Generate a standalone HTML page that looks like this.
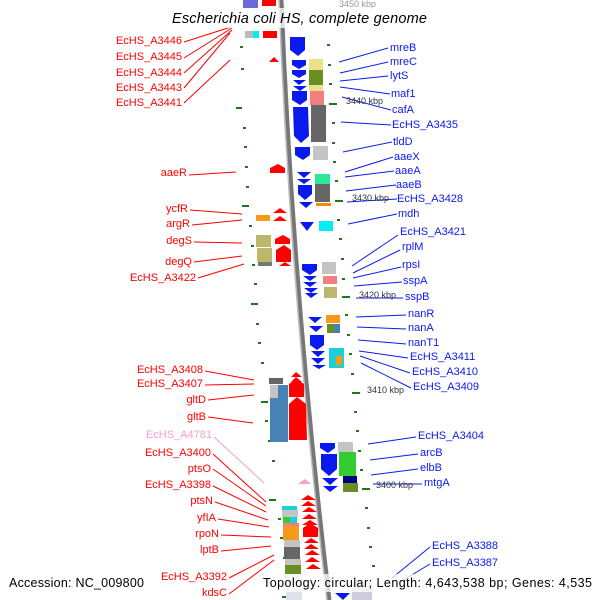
<!DOCTYPE html>
<html><head><meta charset="utf-8"><style>
html,body{margin:0;padding:0;background:#fff;}
svg{display:block;}
text{font-family:"Liberation Sans",sans-serif;}
</style></head><body>
<svg width="600" height="600" viewBox="0 0 600 600" xmlns="http://www.w3.org/2000/svg">
<rect width="600" height="600" fill="#fff"/>
<path d="M281,0 Q293,300 329,600" stroke="#777" stroke-width="5" fill="none"/>
<path d="M279,0 Q291,300 327,600" stroke="#bbb" stroke-width="1.5" fill="none"/>

<g fill="#1a7a1a">
<rect x="240" y="46" width="3" height="2"/><rect x="241" y="68" width="3" height="2"/><rect x="236" y="107" width="6" height="2"/>
<rect x="243" y="127" width="3" height="2"/><rect x="244" y="146" width="3" height="2"/><rect x="245" y="166" width="3" height="2"/>
<rect x="246" y="186" width="3" height="2"/><rect x="242" y="205" width="7" height="2"/><rect x="249" y="225" width="3" height="2"/>
<rect x="251" y="245" width="3" height="2"/><rect x="252" y="264" width="3" height="2"/><rect x="254" y="283" width="3" height="2"/>
<rect x="251" y="303" width="7" height="2"/><rect x="256" y="323" width="3" height="2"/><rect x="258" y="342" width="3" height="2"/>
<rect x="261" y="362" width="3" height="2"/><rect x="261" y="401" width="7" height="2"/><rect x="265" y="420" width="3" height="2"/>
<rect x="268" y="440" width="3" height="2"/><rect x="272" y="460" width="3" height="2"/><rect x="269" y="499" width="7" height="2"/>
<rect x="278" y="518" width="3" height="2"/><rect x="280" y="537" width="3" height="2"/><rect x="283" y="557" width="3" height="2"/>
<rect x="285" y="576" width="3" height="2"/><rect x="282" y="596" width="7" height="2"/>
<rect x="327" y="44" width="3" height="2"/><rect x="328" y="64" width="3" height="2"/><rect x="329" y="83" width="3" height="2"/>
<rect x="329" y="103" width="8" height="2"/><rect x="332" y="122" width="3" height="2"/><rect x="332" y="142" width="3" height="2"/>
<rect x="333" y="161" width="3" height="2"/><rect x="335" y="180" width="3" height="2"/><rect x="335" y="200" width="8" height="2"/>
<rect x="337" y="219" width="3" height="2"/><rect x="339" y="238" width="3" height="2"/><rect x="341" y="258" width="3" height="2"/>
<rect x="342" y="278" width="3" height="2"/><rect x="342" y="296" width="8" height="2"/><rect x="345" y="314" width="3" height="2"/>
<rect x="347" y="334" width="3" height="2"/><rect x="349" y="353" width="3" height="2"/><rect x="351" y="373" width="3" height="2"/>
<rect x="352" y="392" width="8" height="2"/><rect x="354" y="411" width="3" height="2"/><rect x="356" y="430" width="3" height="2"/>
<rect x="358" y="450" width="3" height="2"/><rect x="360" y="469" width="3" height="2"/><rect x="362" y="488" width="8" height="2"/>
<rect x="365" y="507" width="3" height="2"/><rect x="367" y="527" width="3" height="2"/><rect x="369" y="546" width="3" height="2"/>
<rect x="372" y="565" width="3" height="2"/>
</g>

<rect x="243" y="0" width="15" height="8" fill="#6a6ad8"/><rect x="262" y="0" width="14" height="6" fill="#f00"/>
<rect x="245" y="31" width="8" height="7" fill="#bbb"/><rect x="253" y="31" width="6" height="7" fill="#0ee"/>
<rect x="263" y="31" width="14" height="7" fill="#f00"/>

<g fill="#0a1aee">
<polygon points="290,37 305,37 305,50 298,56 290,50"/>
<polygon points="292,60 306,60 306,65 299,69 292,65"/>
<polygon points="292,70 306,70 306,74 299,78 292,74"/>
<polygon points="293,80 306,80 299,85"/>
<polygon points="293,86 307,86 300,91"/>
<polygon points="292,91 307,91 307,100 300,105 292,100"/>
<polygon points="293,107 308,107 309,136 301,143 294,136"/>
<polygon points="295,147 310,147 310,155 303,160 295,155"/>
<polygon points="297,172 311,172 304,178"/>
<polygon points="297,179 311,179 304,184"/>
<polygon points="298,185 312,185 312,194 305,200 298,194"/>
<polygon points="299,202 313,202 306,208"/>
<polygon points="300,222 314,222 307,231"/>
<polygon points="302,264 317,264 317,270 310,275 302,270"/>
<polygon points="303,276 317,276 310,281"/>
<polygon points="303,282 317,282 310,287"/>
<polygon points="304,288 318,288 311,293"/>
<polygon points="305,293 318,293 311,298"/>
<polygon points="308,317 322,317 315,323"/>
<polygon points="309,326 323,326 316,332"/>
<polygon points="310,335 324,335 324,345 317,350 310,345"/>
<polygon points="311,351 325,351 318,357"/>
<polygon points="311,358 325,358 318,364"/>
<polygon points="312,365 326,365 319,369"/>
<polygon points="320,443 335,443 335,448 328,453 320,448"/>
<polygon points="321,454 337,454 337,469 329,476 321,469"/>
<polygon points="322,478 338,478 330,485"/>
<polygon points="323,486 338,486 330,492"/>
<polygon points="335,593 350,593 343,600"/><polygon points="356,592 370,592 363,600"/>
</g>
<rect x="309" y="59" width="14" height="11" fill="#ede08a"/>
<rect x="309" y="70" width="14" height="15" fill="#6b8e23"/>
<rect x="309" y="85" width="14" height="6" fill="#ede08a"/>
<rect x="310" y="91" width="14" height="14" fill="#f08080"/>
<rect x="311" y="105" width="15" height="37" fill="#666"/>
<rect x="313" y="146" width="15" height="14" fill="#c4c4c4"/>
<rect x="315" y="174" width="15" height="10" fill="#2ee89a"/>
<rect x="315" y="184" width="15" height="18" fill="#666"/>
<rect x="316" y="203" width="15" height="3" fill="#f08c00"/>
<rect x="319" y="221" width="14" height="10" fill="#00f0f0"/>
<rect x="322" y="262" width="14" height="12" fill="#c4c4c4"/>
<rect x="323" y="276" width="14" height="8" fill="#f08080"/>
<rect x="324" y="287" width="13" height="11" fill="#bdb76b"/>
<rect x="326" y="315" width="14" height="8" fill="#f59a1a"/>
<rect x="327" y="324" width="7" height="9" fill="#6b8e23"/><rect x="334" y="324" width="6" height="9" fill="#4682b4"/>
<rect x="329" y="348" width="15" height="20" fill="#1ecfd8"/><rect x="336" y="356" width="6" height="9" fill="#f59a1a"/>
<rect x="338" y="442" width="15" height="10" fill="#c4c4c4"/>
<rect x="339" y="452" width="17" height="24" fill="#33cc33"/>
<rect x="343" y="476" width="14" height="7" fill="#000080"/>
<rect x="343" y="483" width="15" height="9" fill="#6b8e23"/>
<rect x="352" y="582" width="20" height="18" fill="#ccd"/>

<g fill="#f00">
<polygon points="269,62 279,62 274,57"/>
<polygon points="270,173 285,173 285,168 278,164 270,168"/>
<polygon points="273,213 287,213 280,208"/>
<polygon points="273,221 287,221 280,216"/>
<polygon points="275,244 290,244 290,239 283,235 275,239"/>
<polygon points="276,262 291,262 291,250 284,245 276,250"/>
<polygon points="279,266 291,266 285,262"/>
<polygon points="291,377 302,377 296,372"/>
<polygon points="291,382 302,382 296,377"/>
<polygon points="289,397 304,397 304,384 296,379 289,384"/>
<polygon points="289,440 307,440 306,404 297,397 289,404"/>
<polygon points="301,500 316,500 308,495"/>
<polygon points="301,506 316,506 308,501"/>
<polygon points="302,512 317,512 309,507"/>
<polygon points="302,519 317,519 309,514"/>
<polygon points="302,525 318,525 310,520"/>
<polygon points="303,537 318,537 318,528 310,523 303,528"/>
<polygon points="304,543 319,543 311,538"/>
<polygon points="304,549 319,549 311,544"/>
<polygon points="305,555 320,555 312,550"/>
<polygon points="305,562 320,562 312,557"/>
<polygon points="306,569 321,569 313,564"/>
</g>
<polygon points="298,484 311,484 305,479" fill="#f4a0c8"/>
<rect x="256" y="215" width="14" height="6" fill="#f59a1a"/>
<rect x="256" y="235" width="15" height="12" fill="#bdb76b"/>
<rect x="257" y="248" width="15" height="14" fill="#bdb76b"/>
<rect x="258" y="262" width="14" height="4" fill="#777"/>
<rect x="269" y="378" width="14" height="6" fill="#666"/>
<rect x="270" y="385" width="8" height="13" fill="#c4c4c4"/><rect x="278" y="385" width="10" height="13" fill="#4682b4"/>
<rect x="270" y="398" width="18" height="44" fill="#4682b4"/>
<rect x="282" y="506" width="15" height="4" fill="#1ecfd8"/>
<rect x="282" y="510" width="16" height="7" fill="#c4c4c4"/>
<rect x="283" y="517" width="7" height="6" fill="#33cc33"/><rect x="290" y="517" width="7" height="6" fill="#1ecfd8"/>
<rect x="283" y="523" width="16" height="3" fill="#f08080"/>
<rect x="283" y="526" width="16" height="14" fill="#f59a1a"/>
<rect x="284" y="540" width="16" height="7" fill="#c4c4c4"/>
<rect x="284" y="547" width="16" height="12" fill="#666"/>
<rect x="285" y="559" width="16" height="6" fill="#c4c4c4"/>
<rect x="285" y="565" width="16" height="9" fill="#6b8e23"/>
<rect x="286" y="574" width="16" height="26" fill="#e0e0e8"/>

<g stroke="#0a1aee" stroke-width="1">
<line x1="339" y1="62" x2="388" y2="48"/><line x1="340" y1="73" x2="388" y2="62"/><line x1="340" y1="81" x2="388" y2="76"/>
<line x1="340" y1="87" x2="390" y2="94"/><line x1="342" y1="97" x2="391" y2="110"/><line x1="341" y1="122" x2="391" y2="125"/>
<line x1="343" y1="152" x2="392" y2="142"/><line x1="345" y1="172" x2="393" y2="157"/><line x1="345" y1="177" x2="394" y2="171"/>
<line x1="346" y1="191" x2="396" y2="185"/><line x1="347" y1="202" x2="397" y2="199"/><line x1="348" y1="224" x2="397" y2="214"/>
<line x1="352" y1="266" x2="398" y2="235"/><line x1="353" y1="273" x2="400" y2="250"/><line x1="353" y1="278" x2="401" y2="267"/>
<line x1="354" y1="286" x2="402" y2="282"/><line x1="356" y1="298" x2="403" y2="298"/>
<line x1="356" y1="317" x2="406" y2="315"/><line x1="357" y1="327" x2="406" y2="329"/><line x1="358" y1="340" x2="406" y2="344"/>
<line x1="359" y1="351" x2="408" y2="358"/><line x1="360" y1="356" x2="410" y2="373"/><line x1="361" y1="363" x2="411" y2="388"/>
<line x1="368" y1="444" x2="416" y2="437"/><line x1="370" y1="460" x2="418" y2="454"/><line x1="371" y1="475" x2="418" y2="469"/>
<line x1="373" y1="484" x2="422" y2="484"/>
<line x1="392" y1="578" x2="430" y2="547"/><line x1="400" y1="582" x2="430" y2="564"/>
</g>
<g stroke="#f00" stroke-width="1">
<line x1="184" y1="42" x2="231" y2="27"/><line x1="184" y1="58" x2="232" y2="28"/><line x1="184" y1="73" x2="232" y2="30"/>
<line x1="184" y1="88" x2="230" y2="33"/><line x1="184" y1="103" x2="230" y2="60"/>
<line x1="189" y1="175" x2="236" y2="172"/><line x1="190" y1="210" x2="242" y2="214"/><line x1="192" y1="225" x2="242" y2="220"/>
<line x1="194" y1="242" x2="242" y2="243"/><line x1="194" y1="262" x2="242" y2="256"/><line x1="198" y1="278" x2="244" y2="264"/>
<line x1="205" y1="371" x2="254" y2="380"/><line x1="205" y1="385" x2="254" y2="384"/><line x1="208" y1="400" x2="254" y2="395"/>
<line x1="208" y1="417" x2="253" y2="423"/>
<line x1="213" y1="454" x2="266" y2="502"/><line x1="213" y1="469" x2="266" y2="506"/><line x1="213" y1="486" x2="266" y2="512"/>
<line x1="215" y1="502" x2="268" y2="520"/><line x1="218" y1="519" x2="269" y2="527"/><line x1="221" y1="535" x2="271" y2="537"/>
<line x1="221" y1="551" x2="271" y2="546"/><line x1="229" y1="578" x2="274" y2="555"/><line x1="229" y1="594" x2="274" y2="560"/>
</g>
<line x1="214" y1="437" x2="264" y2="483" stroke="#f4a0c8" stroke-width="1"/>

<g font-size="9" fill="#333">
<text x="346" y="104">3440 kbp</text><text x="352" y="201">3430 kbp</text><text x="359" y="298">3420 kbp</text>
<text x="367" y="393">3410 kbp</text><text x="376" y="488">3400 kbp</text><text x="339" y="7" fill="#999">3450 kbp</text>
</g>

<g font-size="11" fill="#0a1aee">
<text x="390" y="51">mreB</text><text x="390" y="65">mreC</text><text x="390" y="79">lytS</text>
<text x="391" y="97">maf1</text><text x="392" y="113">cafA</text><text x="392" y="128">EcHS_A3435</text>
<text x="393" y="145">tldD</text><text x="394" y="160">aaeX</text><text x="395" y="174">aaeA</text>
<text x="396" y="188">aaeB</text><text x="397" y="202">EcHS_A3428</text><text x="398" y="217">mdh</text>
<text x="400" y="235">EcHS_A3421</text><text x="402" y="250">rplM</text><text x="402" y="268">rpsI</text>
<text x="403" y="284">sspA</text><text x="405" y="300">sspB</text><text x="408" y="317">nanR</text>
<text x="408" y="331">nanA</text><text x="408" y="346">nanT1</text><text x="410" y="360">EcHS_A3411</text>
<text x="412" y="375">EcHS_A3410</text><text x="413" y="390">EcHS_A3409</text><text x="418" y="439">EcHS_A3404</text>
<text x="420" y="456">arcB</text><text x="420" y="471">elbB</text><text x="424" y="486">mtgA</text>
<text x="432" y="549">EcHS_A3388</text><text x="432" y="566">EcHS_A3387</text>
</g>
<g font-size="11" fill="#f00" text-anchor="end">
<text x="182" y="44">EcHS_A3446</text><text x="182" y="60">EcHS_A3445</text><text x="182" y="76">EcHS_A3444</text>
<text x="182" y="91">EcHS_A3443</text><text x="182" y="106">EcHS_A3441</text><text x="187" y="176">aaeR</text>
<text x="188" y="212">ycfR</text><text x="190" y="227">argR</text><text x="192" y="244">degS</text>
<text x="192" y="265">degQ</text><text x="196" y="281">EcHS_A3422</text><text x="203" y="373">EcHS_A3408</text>
<text x="203" y="387">EcHS_A3407</text><text x="206" y="403">gltD</text><text x="206" y="420">gltB</text>
<text x="212" y="438" fill="#f4a0c8">EcHS_A4781</text><text x="211" y="456">EcHS_A3400</text><text x="211" y="472">ptsO</text>
<text x="211" y="488">EcHS_A3398</text><text x="213" y="504">ptsN</text><text x="216" y="521">yfIA</text>
<text x="219" y="537">rpoN</text><text x="219" y="553">lptB</text><text x="227" y="580">EcHS_A3392</text>
<text x="227" y="596">kdsC</text>
</g>

<rect x="165" y="8" width="266" height="20" fill="#fff" fill-opacity="0.75"/>
<text x="172" y="23" font-size="14.5" font-style="italic" fill="#000" textLength="255">Escherichia coli HS, complete genome</text>
<rect x="258" y="574" width="338" height="18" fill="#fff" fill-opacity="0.75"/>
<text x="9" y="587" font-size="12.5" fill="#000" textLength="135">Accession: NC_009800</text>
<text x="263" y="587" font-size="12.5" fill="#000" textLength="329">Topology: circular; Length: 4,643,538 bp; Genes: 4,535</text>
</svg>
</body></html>
